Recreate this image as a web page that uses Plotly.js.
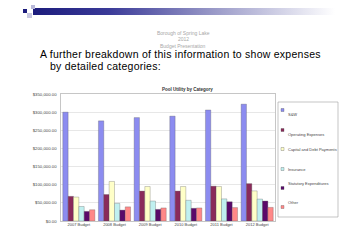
<!DOCTYPE html>
<html>
<head>
<meta charset="utf-8">
<script src="https://cdn.plot.ly/plotly-3.0.1.min.js"></script>
<style>
html,body{margin:0;padding:0;background:#fff;}
#wrap{position:relative;width:340px;height:244px;overflow:hidden;}
#chart{position:absolute;left:0;top:0;width:340px;height:244px;}
.hd{position:absolute;pointer-events:none;}
.heading{position:absolute;font-family:'Liberation Sans',Arial,sans-serif;font-size:10.5px;line-height:12px;height:12px;letter-spacing:0.25px;color:#000;white-space:nowrap;pointer-events:none;}
</style>
</head>
<body>
<div id="wrap">
<div id="chart"></div>
<div class="hd" style="left:33px;top:8px;width:302px;height:7px;background:linear-gradient(to right,#1c1c7c 0%,#3a3a98 25%,#9a9ac8 60%,#ffffff 100%);"></div>
<div class="hd" style="left:23px;top:9px;width:4px;height:4px;background:#1c1c7c;"></div>
<div class="hd" style="left:27px;top:13px;width:5px;height:5px;background:#c8c8e0;"></div>
<div class="hd" style="left:31px;top:5px;width:4px;height:4px;background:#b8b8d8;"></div>
<div class="heading" style="left:40px;top:48px;">A further breakdown of this information to show expenses</div>
<div class="heading" style="left:50px;top:60px;">by detailed categories:</div>
</div>
<script>
const categories = ['2007 Budget','2008 Budget','2009 Budget','2010 Budget','2011 Budget','2012 Budget'];
const seriesNames = ['S&W','Operating Expenses','Capital and Debt Payments','Insurance','Statutory Expenditures','Other'];
const sw = [300000, 276000, 285000, 289000, 306000, 322000];
const operating = [68000, 73000, 82500, 82500, 96000, 103000];
const capital = [66000, 109000, 95000, 95000, 95000, 83000];
const insurance = [40000, 48500, 55000, 57000, 61000, 60500];
const statutory = [26500, 30000, 32000, 35000, 53000, 55000];
const other = [31000, 39000, 36000, 36000, 37000, 37500];
const seriesValues = [sw, operating, capital, insurance, statutory, other];
const colors = ['#8c8cf0','#8a2a5a','#ffffc8','#c0f0f0','#5a0a6a','#ff8888'];

const L = 61, R = 275, T = 94, B = 221;
const px = x => (x - L) / (R - L);
const py = y => (B - y) / (B - T);

const traces = seriesValues.map((v, i) => ({
  type: 'bar', x: categories, y: v, name: seriesNames[i],
  marker: {color: colors[i], line: {color: '#555', width: 0.3}},
  showlegend: false, hoverinfo: 'none'
}));

const annotations = [
  {text: 'Borough of Spring Lake', x: px(183), y: py(28), xref:'paper', yref:'paper', showarrow:false, font:{family:'Liberation Sans, Arial', size:5, color:'#a8a8a8'}},
  {text: '2012', x: px(183), y: py(34), xref:'paper', yref:'paper', showarrow:false, font:{family:'Liberation Sans, Arial', size:5, color:'#a8a8a8'}},
  {text: 'Budget Presentation', x: px(183), y: py(40.5), xref:'paper', yref:'paper', showarrow:false, font:{family:'Liberation Sans, Arial', size:5, color:'#a8a8a8'}},
  {text: '<b>Pool Utility by Category</b>', x: px(187), y: py(85), xref:'paper', yref:'paper', showarrow:false, font:{family:'Liberation Sans, Arial', size:4.5, color:'#333'}}
];
const shapes = [
  {type:'rect', xref:'paper', yref:'paper', x0: px(278), x1: px(338), y0: py(102), y1: py(217), line:{color:'#a0a0a0', width:0.6}, fillcolor:'#fff'}
];
const legendY = [110, 130, 149, 169, 188, 207];
seriesNames.forEach((n, i) => {
  shapes.push({type:'rect', xref:'paper', yref:'paper', x0: px(281), x1: px(284), y0: py(legendY[i]+1.5), y1: py(legendY[i]-1.5), line:{color:'#444', width:0.3}, fillcolor: colors[i]});
  annotations.push({text: n, x: px(285.5), y: py(legendY[i]), xref:'paper', yref:'paper', xanchor:'left', showarrow:false, font:{family:'Liberation Sans, Arial', size:4, color:'#444'}});
});

const layout = {
  width: 340, height: 244,
  margin: {l: L, r: 340 - R, t: T, b: 244 - B, pad: 0},
  paper_bgcolor: '#fff', plot_bgcolor: '#fff',
  barmode: 'group', bargap: 0.1, bargroupgap: 0,
  showlegend: false,
  xaxis: {type:'category', tickfont:{family:'Liberation Sans, Arial', size:4, color:'#444'}, showline:true, linecolor:'#a0a0a0', linewidth:0.6, mirror:true, ticks:'', showgrid:false, zeroline:false, fixedrange:true},
  yaxis: {range:[0, 350000], dtick: 50000, tickformat: '$,.2f', tickfont:{family:'Liberation Sans, Arial', size:4.3, color:'#444'}, showline:true, linecolor:'#a0a0a0', linewidth:0.6, mirror:true, gridcolor:'#cfcfcf', gridwidth:0.5, zeroline:false, ticks:'', ticklabelstandoff: 3, fixedrange:true},
  annotations: annotations,
  shapes: shapes,
  font: {family:'Liberation Sans, Arial'}
};
Plotly.newPlot('chart', traces, layout, {staticPlot: true, displayModeBar: false});
</script>
</body>
</html>
